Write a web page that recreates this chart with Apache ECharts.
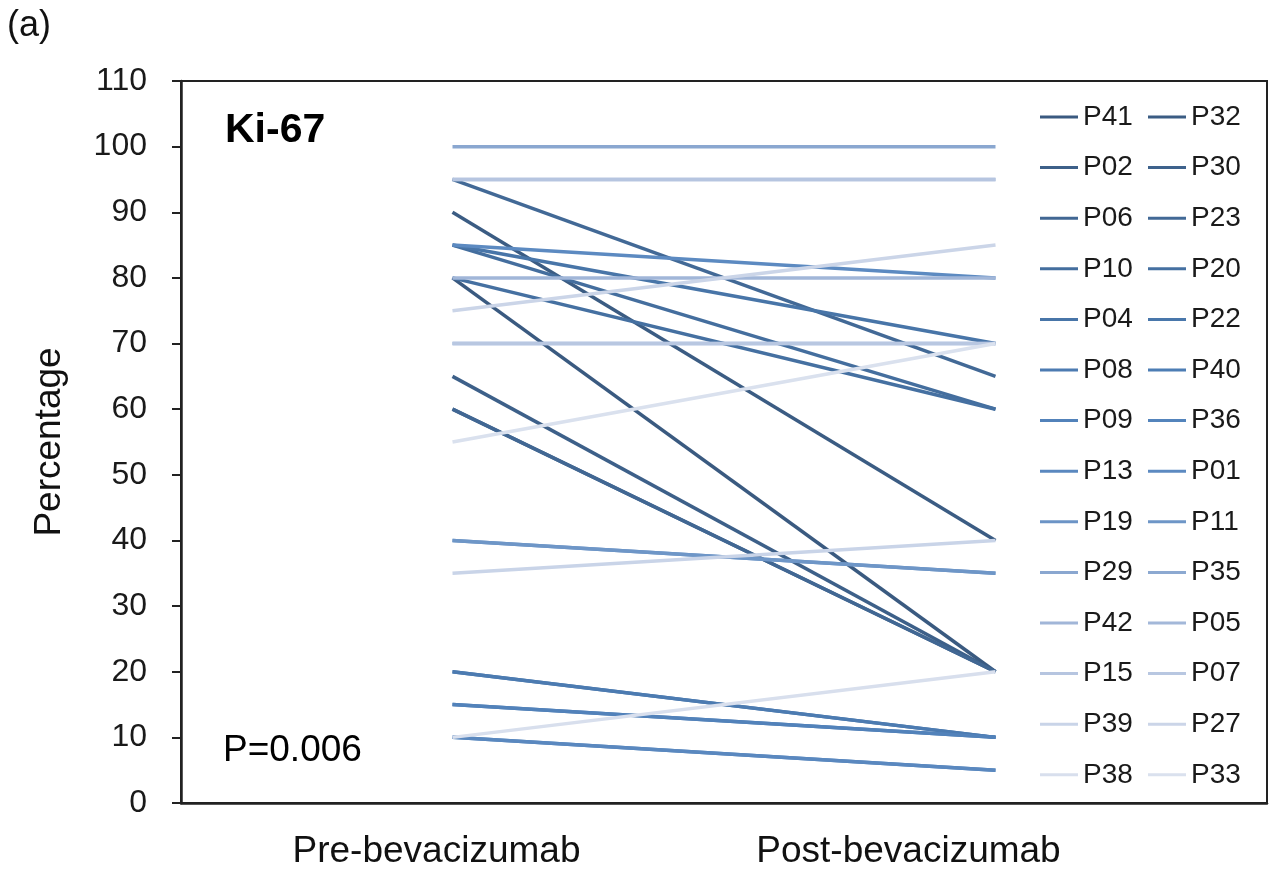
<!DOCTYPE html>
<html>
<head>
<meta charset="utf-8">
<script src="https://cdn.jsdelivr.net/npm/echarts@6/dist/echarts.min.js"></script>
<style>html,body{margin:0;padding:0;background:#fff;}#chart{width:1274px;height:876px;}</style>
</head>
<body>
<div id="chart"></div>
<script>
const categories = ['Pre-bevacizumab', 'Post-bevacizumab'];
const patients = ['P41','P32','P02','P30','P06','P23','P10','P20','P04','P22','P08','P40','P09','P36',
                  'P13','P01','P19','P11','P29','P35','P42','P05','P15','P07','P39','P27','P38','P33'];
const preValues  = [80, 90, 65, 60, 60, 95, 85, 80, 85, 20, 20, 15, 15, 10,
                    10, 85, 40, 40, 100, 70, 80, 95, 95, 70, 35, 75, 10, 55];
const postValues = [20, 40, 20, 20, 20, 65, 60, 60, 70, 10, 10, 10, 10, 5,
                    5, 80, 35, 35, 100, 70, 80, 95, 95, 70, 40, 85, 20, 70];
const yTicks = [0, 10, 20, 30, 40, 50, 60, 70, 80, 90, 100, 110];
const colors = ['#3a5a80','#3b5c83','#3d6089','#3e628c','#416793','#426996','#446e9e','#4570a1',
                '#4875a8','#4977ab','#4c7bb1','#4d7db4','#5282ba','#5384bc','#5a88bf','#5c8ac1',
                '#6c94c6','#6e96c7','#8aa7d0','#8ca9d1','#a1b6d8','#a3b8d9','#b6c5e0','#b8c7e1',
                '#c9d4e8','#cbd5e8','#d8dfed','#dae1ee'];

const FONT = '"Liberation Sans", Arial, Helvetica, sans-serif';
const chart = echarts.init(document.getElementById('chart'), null, {renderer: 'canvas'});

const series = patients.map((p, i) => ({
  name: p,
  type: 'line',
  data: [preValues[i], postValues[i]],
  symbol: 'none',
  silent: true,
  animation: false,
  color: colors[i],
  lineStyle: {width: 3.5, color: colors[i]}
}));

const leftNames = patients.filter((_, i) => i % 2 === 0);
const rightNames = patients.filter((_, i) => i % 2 === 1);
const legendCommon = {
  orient: 'vertical',
  top: 103,
  padding: 0,
  itemWidth: 38,
  itemHeight: 3,
  itemGap: 22.6,
  icon: 'rect',
  textStyle: {fontFamily: FONT, fontSize: 28, color: '#1a1a1a', lineHeight: 28},
  selectedMode: false
};

chart.setOption({
  backgroundColor: '#ffffff',
  animation: false,
  grid: {left: 181, top: 81, right: 7, bottom: 73, show: true, borderColor: '#222', borderWidth: 2, containLabel: false},
  legend: [
    Object.assign({}, legendCommon, {left: 1040, data: leftNames}),
    Object.assign({}, legendCommon, {left: 1148, data: rightNames})
  ],
  xAxis: {
    type: 'category',
    data: categories,
    boundaryGap: true,
    axisLine: {lineStyle: {color: '#222', width: 2.5}},
    axisTick: {show: false},
    axisLabel: {
      interval: 0,
      margin: 30,
      fontFamily: FONT,
      fontSize: 37,
      color: '#111',
      formatter: v => (v === categories[0] ? '{a|' + v + '}' : '{b|' + v + '}'),
      rich: {
        a: {fontFamily: FONT, fontSize: 37, color: '#111', padding: [0, 32, 0, 0]},
        b: {fontFamily: FONT, fontSize: 37, color: '#111', padding: [0, 174, 6, 0]}
      }
    }
  },
  yAxis: {
    type: 'value',
    min: 0,
    max: 110,
    interval: 10,
    name: 'Percentage',
    nameLocation: 'middle',
    nameGap: 113,
    nameTextStyle: {fontFamily: FONT, fontSize: 37, color: '#111'},
    axisLine: {show: true, lineStyle: {color: '#222', width: 2.5}},
    axisTick: {show: true, inside: false, length: 9, lineStyle: {color: '#222', width: 2}},
    splitLine: {show: false},
    axisLabel: {
      margin: 34,
      fontFamily: FONT,
      fontSize: 32,
      color: '#1a1a1a',
      formatter: v => (yTicks.indexOf(v) >= 0 ? String(v) : '')
    }
  },
  graphic: [
    {type: 'text', left: 7, top: 8, style: {text: '(a)', font: '36px ' + FONT, fill: '#111'}},
    {type: 'text', x: 225, y: 131, style: {text: 'Ki-67', font: 'bold 41px ' + FONT, fill: '#000', textVerticalAlign: 'middle'}},
    {type: 'text', x: 223, y: 751, style: {text: 'P=0.006', font: '37px ' + FONT, fill: '#000', textVerticalAlign: 'middle'}}
  ],
  series: series
});
</script>
</body>
</html>
